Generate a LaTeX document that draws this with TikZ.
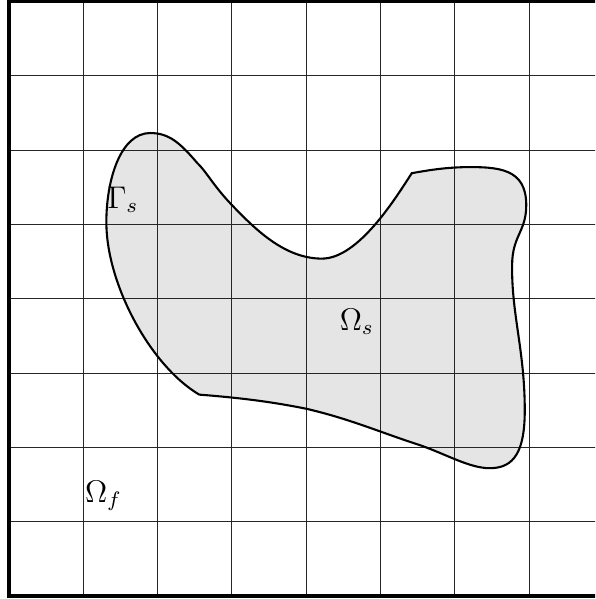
\documentclass[tikz,border=0pt]{standalone}
\usepackage{tikz}
\usetikzlibrary{positioning}

% outline of the solid body (two sharp corners)
\newcommand{\solidoutline}{
    (2.56,2.71) .. controls (3.2,2.66) and (3.6,2.6) .. (4.0,2.52)
    .. controls (4.6,2.38) and (5.0,2.2) .. (5.53,2.03)
    .. controls (5.9,1.9) and (6.2,1.72) .. (6.47,1.72)
    .. controls (6.8,1.72) and (6.94,1.95) .. (6.94,2.5)
    .. controls (6.94,3.3) and (6.76,3.8) .. (6.77,4.45)
    .. controls (6.77,4.85) and (6.96,4.9) .. (6.96,5.26)
    .. controls (6.96,5.75) and (6.6,5.78) .. (6.1,5.77)
    .. controls (5.8,5.76) and (5.6,5.72) .. (5.42,5.69)
    .. controls (5.2,5.35) and (4.7,4.54) .. (4.21,4.54)
    .. controls (3.7,4.54) and (3.3,4.95) .. (3.0,5.26)
    .. controls (2.75,5.52) and (2.65,5.72) .. (2.53,5.83)
    .. controls (2.3,6.1) and (2.15,6.23) .. (1.90,6.23)
    .. controls (1.5,6.23) and (1.31,5.6) .. (1.31,5.03)
    .. controls (1.31,4.2) and (1.9,3.1) .. (2.56,2.71) -- cycle
}

\begin{document}
\begin{tikzpicture}[
    gridline/.style={draw=black!85, line width=0.4pt},
    frame/.style={draw, line width=1.2pt},
    solidregion/.style={fill=gray!20},
    interface/.style={draw, line width=0.8pt},
    every node/.style={font=\large, inner sep=0pt}
]

% ------------------------
% Page window (right edge of the mesh is cut off)
% ------------------------
\clip (-0.121,-0.04) rectangle (7.887,8.02);

% ------------------------
% Solid body (fill first, mesh drawn over it)
% ------------------------
\path[solidregion] \solidoutline;

% ------------------------
% Background mesh
% ------------------------
\foreach \i in {1,...,7} {
    \draw[gridline] (\i,0) -- (\i,8);
    \draw[gridline] (0,\i) -- (8,\i);
}

% ------------------------
% Interface of the solid
% ------------------------
\draw[interface] \solidoutline;

% ------------------------
% Outer boundary
% ------------------------
\draw[frame] (0,0) rectangle (8,8);

% ------------------------
% Labels
% ------------------------
\node (gammas) at (1.53,5.33) {$\Gamma_s$};
\node (omegas) at (4.68,3.69) {$\Omega_s$};
\node (omegaf) at (1.27,1.35) {$\Omega_f$};

\end{tikzpicture}
\end{document}
